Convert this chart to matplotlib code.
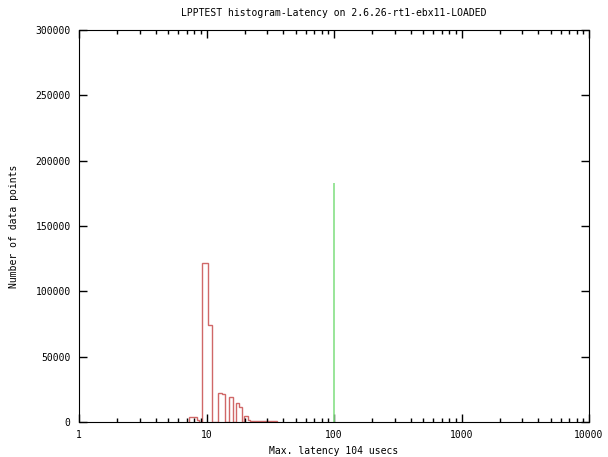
import numpy as np
import matplotlib.pyplot as plt

plt.rcParams['font.family'] = 'DejaVu Sans Mono'
plt.rcParams['font.size'] = 7

# red histogram (bin edges in usecs, counts per bin)
red_edges = [7.3, 8.4, 8.8, 9.3, 10.2, 11.1, 12.2, 13.3, 14.0, 15.0, 16.2,
             16.9, 18.0, 18.9, 19.8, 21.0, 22.0, 23.0, 24.5, 26.0, 27.5,
             29.0, 31.0, 33.0, 35.5]
red_counts = [4000, 1200, 0, 122000, 74000, 0, 22000, 21500, 0, 19000, 0,
              14800, 11200, 0, 4600, 1200, 900, 800, 700, 800, 1000,
              800, 600, 400]

# green spike
green_x = [100]
green_y = [183000]

fig = plt.figure(figsize=(6.08, 4.57), dpi=100)
ax = fig.add_axes([79/608, 1-422/457, 510/608, 392/457])

ax.stairs(red_counts, red_edges, color='#d06868', linewidth=1.0, baseline=0)
ax.vlines(green_x, 0, green_y, color='#88e088', linewidth=1.2)

ax.set_xscale('log')
ax.set_xlim(1, 10000)
ax.set_ylim(0, 300000)
ax.set_yticks(np.arange(0, 300001, 50000))
ax.set_xticks([1, 10, 100, 1000, 10000])
ax.set_xticklabels(['1', '10', '100', '1000', '10000'])
ax.tick_params(which='both', direction='in', top=True, right=True, width=1)
ax.tick_params(which='major', length=6, pad=6)
ax.tick_params(which='minor', length=3)

ax.set_title("LPPTEST histogram-Latency on 2.6.26-rt1-ebx11-LOADED", fontsize=7, pad=10)
ax.set_xlabel("Max. latency 104 usecs", labelpad=4)
ax.set_ylabel("Number of data points", labelpad=12)

plt.savefig("out.png", dpi=100)
